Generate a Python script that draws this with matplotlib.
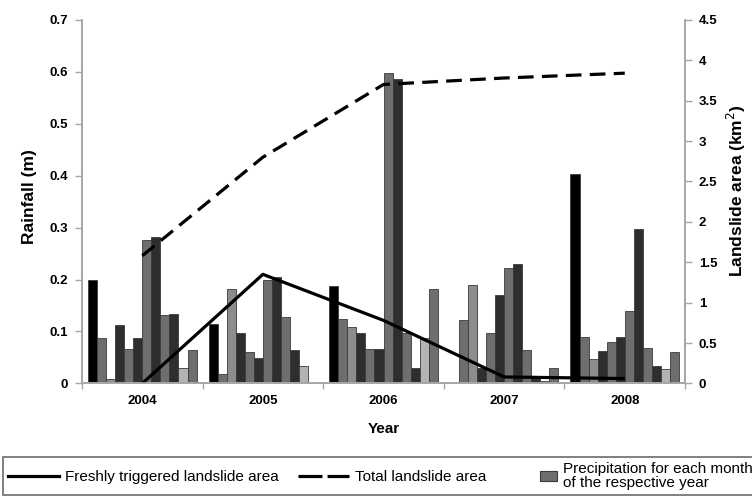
import numpy as np
import matplotlib
matplotlib.use("Agg")
import matplotlib.pyplot as plt
from matplotlib.lines import Line2D
from matplotlib.patches import Rectangle
from matplotlib.legend_handler import HandlerPatch

plt.rcParams['font.family'] = ['Liberation Sans', 'DejaVu Sans']

years = ['2004', '2005', '2006', '2007', '2008']

# monthly rainfall (m), Jan..Dec
rain_2004 = [0.199, 0.087, 0.008, 0.112, 0.066, 0.087, 0.277, 0.281, 0.131, 0.133, 0.030, 0.064]
rain_2005 = [0.114, 0.019, 0.181, 0.098, 0.060, 0.049, 0.199, 0.204, 0.128, 0.064, 0.034, 0.0]
rain_2006 = [0.188, 0.124, 0.109, 0.098, 0.067, 0.067, 0.597, 0.587, 0.098, 0.029, 0.087, 0.181]
rain_2007 = [0.0, 0.122, 0.189, 0.029, 0.098, 0.170, 0.223, 0.229, 0.064, 0.010, 0.005, 0.029]
rain_2008 = [0.404, 0.090, 0.047, 0.062, 0.079, 0.090, 0.140, 0.298, 0.068, 0.033, 0.027, 0.060]

# landslide areas (km2)
fresh_area = [0.0, 1.35, 0.78, 0.08, 0.06]
total_area = [1.58, 2.80, 3.70, 3.78, 3.84]

month_colors = ['#000000', '#6e6e6e', '#8c8c8c', '#2e2e2e', '#6e6e6e', '#2e2e2e',
                '#6e6e6e', '#2e2e2e', '#6e6e6e', '#2e2e2e', '#b3b3b3', '#6e6e6e']

rain = np.array([rain_2004, rain_2005, rain_2006, rain_2007, rain_2008])
x = np.arange(len(years))

fig = plt.figure(figsize=(7.52, 4.96), dpi=100)
ax = fig.add_axes([0.109, 0.227, 0.802, 0.733])

grey = '#a6a6a6'
bw = 0.9 / 12
for m in range(12):
    ax.bar(x - 0.45 + bw * (m + 0.5), rain[:, m], width=bw,
           color=month_colors[m], edgecolor='#3a3a3a', linewidth=0.6, zorder=2)

ax.set_xlim(-0.5, 4.5)
ax.set_ylim(0, 0.7)
ax.set_yticks(np.arange(0, 0.71, 0.1))
ax.set_yticklabels(['0'] + [f'{v:.1f}' for v in np.arange(0.1, 0.71, 0.1)])
ax.set_xticks(np.arange(-0.5, 4.6, 1.0))
ax.set_xticklabels([])
ax.set_xticks(x, minor=True)
ax.set_xticklabels(years, minor=True)
ax.tick_params(axis='x', which='major', length=4, color=grey, width=1)
ax.tick_params(axis='x', which='minor', length=0, pad=8)
ax.tick_params(axis='y', length=5, color=grey, width=1, pad=5)
for lbl in ax.get_xticklabels(minor=True) + ax.get_yticklabels():
    lbl.set_fontweight('bold')
    lbl.set_fontsize(9.5)

ax.spines['top'].set_visible(False)
for s in ['left', 'bottom', 'right']:
    ax.spines[s].set_color(grey)
    ax.spines[s].set_linewidth(1.2)

ax.set_xlabel('Year', fontsize=11, fontweight='bold', labelpad=11)
ax.set_ylabel('Rainfall (m)', fontsize=12.5, fontweight='bold')
ax.yaxis.set_label_coords(-0.074, 0.515)

ax2 = ax.twinx()
ax2.plot(x, fresh_area, color='black', linewidth=2.3, solid_capstyle='butt')
ax2.plot(x, total_area, color='black', linewidth=2.3, dashes=(4.9, 2.6))
ax2.set_ylim(0, 4.5)
ax2.set_yticks(np.arange(0, 4.6, 0.5))
ax2.set_yticklabels(['0', '0.5', '1', '1.5', '2', '2.5', '3', '3.5', '4', '4.5'])
ax2.tick_params(axis='y', length=5, color=grey, width=1, pad=5)
for lbl in ax2.get_yticklabels():
    lbl.set_fontweight('bold')
    lbl.set_fontsize(9.5)
ax2.spines['top'].set_visible(False)
for s in ['left', 'bottom', 'right']:
    ax2.spines[s].set_color(grey)
    ax2.spines[s].set_linewidth(1.2)
ax2.set_ylabel('Landslide area (km$^2$)', fontsize=12.5, fontweight='bold',
               rotation=90, va='center')
ax2.yaxis.set_label_coords(1.086, 0.53)


def small_square(legend, orig_handle, xdescent, ydescent, width, height, fontsize):
    s = height * 1.0
    return Rectangle((width - 1.6 * s - xdescent, -ydescent + (height - s) / 2), 1.6 * s, s)


h_fresh = Line2D([], [], color='black', linewidth=2.3)
h_total = Line2D([], [], color='black', linewidth=2.3, dashes=(7.5, 1.6))
h_rain = Rectangle((0, 0), 1, 1, facecolor='#6e6e6e', edgecolor='#3a3a3a', linewidth=0.8)
leg = fig.legend([h_fresh, h_total, h_rain],
                 ['Freshly triggered landslide area', 'Total landslide area',
                  'Precipitation for each month\nof the respective year'],
                 loc='lower left', bbox_to_anchor=(0.004, 0.002), ncol=3,
                 fontsize=11, handlelength=3.3, handletextpad=0.4,
                 columnspacing=1.3, borderpad=0.35, borderaxespad=0,
                 fancybox=False, framealpha=1,
                 handler_map={Rectangle: HandlerPatch(patch_func=small_square)})
leg.get_frame().set_edgecolor('#808080')
leg.get_frame().set_linewidth(1.4)
for t in leg.get_texts():
    t.set_linespacing(0.95)

fig.savefig('out.png', dpi=100)
